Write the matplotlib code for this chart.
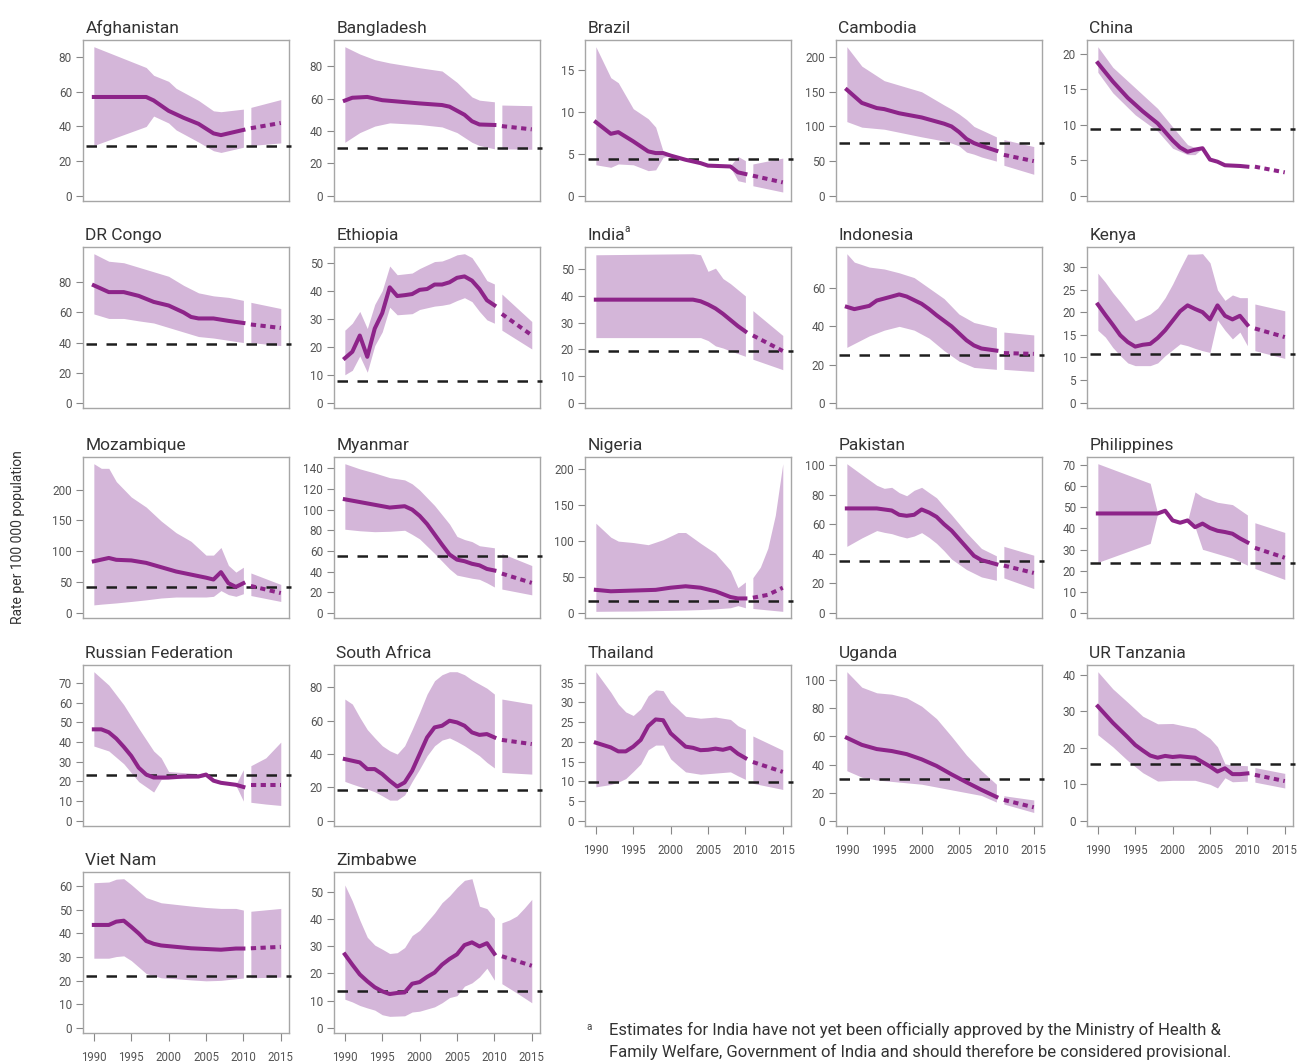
import matplotlib
matplotlib.use("Agg")
import matplotlib.pyplot as plt
from matplotlib.ticker import FixedLocator
import numpy as np

# ---- data: estimate (line), uncertainty band (lo/hi); years > 2010 are projections
afg_yr = [1990, 1997, 1998, 1999, 2000, 2002, 2004, 2006, 2007, 2008, 2010, 2011, 2015]
afg_est = [57, 57, 55, 52, 49, 45, 41.5, 36, 35, 36, 38, 39, 42]
afg_byr = [1990, 1997, 1998, 2000, 2001, 2004, 2006, 2007, 2010, 2011, 2015]
afg_hi = [86, 74, 69.5, 66, 62, 55, 49, 48.5, 50, 51, 55.5]
afg_lo = [29, 40, 46, 42, 38, 31, 26, 25, 28, 29, 30.5]

bgd_yr = [1990, 1991, 1993, 1995, 2000, 2003, 2004, 2006, 2007, 2008, 2010, 2011, 2015]
bgd_est = [58.75, 60.5, 61, 59, 57, 56, 55, 50, 46, 44, 43.7, 43, 41]
bgd_byr = [1990, 1992, 1994, 1995, 1996, 2000, 2003, 2005, 2007, 2008, 2010, 2011, 2015]
bgd_hi = [92, 87.5, 84, 83, 82, 79, 77, 70, 61, 59, 58, 56, 55.6]
bgd_lo = [33, 39, 43, 44, 45, 44, 42.5, 39, 33, 31, 29, 29, 28.7]

bra_yr = [1990, 1992, 1993, 1995, 1997, 1998, 1999, 2000, 2002, 2004, 2005, 2008, 2009, 2010, 2011, 2015]
bra_est = [8.8, 7.4, 7.6, 6.5, 5.3, 5.1, 5.1, 4.8, 4.3, 3.9, 3.6, 3.5, 2.8, 2.6, 2.4, 1.6]
bra_byr = [1990, 1992, 1993, 1995, 1997, 1998, 1999, 2000, 2002, 2004, 2005, 2008, 2009, 2010, 2011, 2015]
bra_hi = [17.8, 14.1, 13.5, 10.4, 9.2, 8.2, 5.3, 4.8, 4.3, 3.9, 3.6, 3.6, 4.7, 4.2, 3.8, 4.5]
bra_lo = [3.7, 3.4, 3.8, 3.7, 3.0, 3.1, 4.6, 4.8, 4.3, 3.9, 3.6, 3.4, 1.8, 1.6, 1.2, 0.45]

khm_yr = [1990, 1992, 1994, 1995, 1997, 2000, 2002, 2003, 2004, 2005, 2006, 2007, 2008, 2010, 2011, 2015]
khm_est = [153, 134, 126.5, 125, 119, 113, 107, 104, 100, 92, 82, 76, 72, 65, 59, 50]
khm_byr = [1990, 1992, 1995, 2000, 2003, 2004, 2005, 2006, 2007, 2008, 2010, 2011, 2015]
khm_hi = [215, 187, 166, 150, 131, 125, 118, 110, 100, 95, 85, 81, 71]
khm_lo = [107, 99, 96, 85, 79, 76, 72, 63, 60, 56, 50, 44, 31]

chn_yr = [1990, 1992, 1994, 1996, 1998, 2000, 2001, 2002, 2003, 2004, 2005, 2006, 2007, 2009, 2010, 2011, 2015]
chn_est = [18.7, 16.1, 13.8, 11.9, 10.2, 7.8, 6.8, 6.2, 6.5, 6.7, 5.1, 4.8, 4.3, 4.2, 4.1, 4.1, 3.3]
chn_byr = [1990, 1992, 1995, 1998, 2000, 2002, 2003, 2004, 2005, 2006, 2007, 2009, 2010, 2011, 2015]
chn_hi = [21, 18.1, 15.2, 12.3, 9.7, 7.2, 6.8, 6.7, 5.1, 4.8, 4.3, 4.2, 4.1, 4.1, 3.3]
chn_lo = [17.4, 14.5, 11.4, 9.1, 6.7, 5.8, 5.8, 6.7, 5.1, 4.8, 4.3, 4.2, 4.1, 4.1, 3.3]

cod_yr = [1990, 1992, 1994, 1996, 1998, 2000, 2002, 2003, 2004, 2006, 2008, 2010, 2011, 2015]
cod_est = [78, 73.5, 73.5, 71, 67, 64.6, 60, 57, 56, 56, 54.4, 53, 52, 49.7]
cod_byr = [1990, 1992, 1994, 1996, 1998, 2000, 2002, 2004, 2006, 2008, 2010, 2011, 2015]
cod_hi = [99, 94, 93, 90, 87, 84, 78, 73, 71, 70, 68, 66.7, 62.6]
cod_lo = [59, 56, 56, 54.4, 53, 50, 47, 44, 43, 41.5, 40, 40, 38]

eth_yr = list(range(1990, 2011)) + [2011, 2015]
eth_est = [15.9, 18.2, 24, 16.4, 26.5, 32, 41.2, 38.1, 38.4, 38.8, 40.3, 40.6, 42.2, 42.2, 43, 44.6,
           45.1, 43.6, 40.6, 36.6, 34.8, 31.7, 24.1]
eth_byr = [1990, 1991, 1992, 1993, 1994, 1995, 1996, 1997, 1999, 2000, 2002, 2003, 2004, 2005, 2006,
           2007, 2008, 2009, 2010, 2011, 2015]
eth_hi = [25.9, 28.4, 32.6, 26.5, 35.1, 40, 48.8, 45.7, 46.3, 47.9, 50.4, 50.6, 51.6, 52.8, 53.2,
          51.8, 47.9, 43.6, 42.4, 38.8, 29]
eth_lo = [10, 11.6, 16.7, 10.9, 20.4, 25.3, 34.1, 31.4, 31.8, 33.3, 34.5, 34.8, 35.3, 36.5, 37.5,
          36.1, 32.6, 29.6, 28.4, 25.9, 19.2]

ind_yr = [1990, 2003, 2004, 2005, 2006, 2007, 2008, 2009, 2010, 2011, 2015]
ind_est = [38.6, 38.6, 38, 36.8, 35.3, 33.3, 31, 28.7, 26.7, 25.2, 19.4]
ind_byr = [1990, 2003, 2004, 2005, 2006, 2007, 2008, 2010, 2011, 2015]
ind_hi = [55.4, 55.8, 55.4, 49.2, 50.4, 46.5, 44.6, 40, 34.5, 25.2]
ind_lo = [24.4, 24.4, 24.4, 23.3, 21.3, 20.5, 19.4, 17.4, 16.3, 12.4]

idn_yr = [1990, 1991, 1993, 1994, 1996, 1997, 1998, 2000, 2001, 2002, 2004, 2006, 2007, 2008, 2010, 2011, 2015]
idn_est = [50.2, 49, 50.7, 53.5, 55.6, 56.7, 55.6, 51.8, 49, 45.8, 40, 32.7, 30, 28.4, 27.3, 26, 25.6]
idn_byr = [1990, 1991, 1993, 1995, 1997, 1999, 2001, 2003, 2005, 2007, 2010, 2011, 2015]
idn_hi = [78, 73.6, 71, 70, 68, 65.5, 60, 54.5, 46.4, 42, 39.3, 37, 35.5]
idn_lo = [29, 31, 35, 38, 40, 38, 33.8, 27.3, 21.8, 18.5, 17.5, 17.5, 16.4]

ken_yr = list(range(1990, 2011)) + [2011, 2015]
ken_est = [21.7, 19.4, 17.2, 14.9, 13.4, 12.4, 12.8, 13, 14.3, 16, 18.1, 20.2, 21.5, 20.7, 20, 18.4,
           21.5, 19.2, 18.4, 19.2, 17.2, 16.4, 14.5]
ken_byr = list(range(1990, 2011)) + [2011, 2015]
ken_hi = [28.6, 26.6, 24.3, 22.3, 20.2, 18.1, 18.8, 19.6, 20.9, 23.2, 26.2, 29.6, 32.8, 32.8, 32.9,
          30.9, 24.9, 22.6, 23.8, 23.2, 23.2, 21.8, 20.3]
ken_lo = [16, 14.5, 12.2, 10.4, 8.8, 8.2, 8.2, 8.2, 8.8, 10.4, 11.7, 13, 12.6, 12, 11.5, 11.1, 18.3,
          16, 14.1, 15.6, 12.6, 11.5, 9.8]

moz_yr = [1990, 1992, 1993, 1995, 1997, 1999, 2001, 2003, 2005, 2006, 2007, 2008, 2009, 2010, 2011, 2015]
moz_est = [83.6, 89, 86, 85, 81, 74, 67, 62, 57, 54, 66, 48, 42, 48, 43.5, 32]
moz_byr = [1990, 1991, 1992, 1993, 1995, 1997, 1999, 2001, 2003, 2005, 2006, 2007, 2008, 2009, 2010, 2011, 2015]
moz_hi = [242, 234.5, 234.5, 213, 188, 171.6, 149, 130, 116, 93.6, 93.6, 106, 77, 66, 74, 64.6, 46]
moz_lo = [12.8, 14, 15, 16, 18.4, 21, 24, 25.6, 25.6, 25.6, 26.7, 36, 29.5, 26.7, 31, 28, 18.4]

mmr_yr = [1990, 1993, 1996, 1998, 1999, 2000, 2001, 2002, 2003, 2004, 2005, 2006, 2007, 2008, 2009, 2010, 2011, 2015]
mmr_est = [110, 106, 102, 103.3, 100, 94, 86, 76, 66, 56.5, 51.5, 50, 47.5, 46, 42.5, 41, 38, 29]
mmr_byr = [1990, 1992, 1994, 1996, 1998, 1999, 2000, 2002, 2004, 2005, 2006, 2007, 2008, 2009, 2010, 2011, 2015]
mmr_hi = [144.5, 139.5, 135.5, 131, 128.8, 125, 119, 104, 86, 74, 71, 69, 65, 64, 63, 57.5, 45.8]
mmr_lo = [81, 79.5, 78.6, 79, 80, 76, 71.6, 57.5, 42.5, 36.5, 35, 33.5, 32.4, 29, 25, 23, 17.4]

nga_yr = [1990, 1992, 1995, 1998, 2000, 2002, 2004, 2006, 2008, 2009, 2010, 2011, 2013, 2015]
nga_est = [32, 30, 31, 32, 35, 37, 35, 30, 22, 20, 20, 21, 25, 35]
nga_byr = [1990, 1992, 1993, 1995, 1997, 1999, 2001, 2002, 2004, 2006, 2008, 2009, 2010,
           2011, 2012, 2013, 2014, 2015]
nga_hi = [125, 105.5, 100, 98, 95, 102, 112, 112, 97, 83, 59, 35, 43, 49, 63.6, 90, 136, 208]
nga_lo = [2, 2.2, 2.3, 2.4, 2.8, 3.2, 3.6, 3.8, 4.5, 5.5, 7, 10, 7, 6, 5, 4, 3, 2]

pak_yr = [1990, 1994, 1995, 1996, 1997, 1998, 1999, 2000, 2001, 2002, 2003, 2004, 2005, 2006, 2007,
          2008, 2009, 2010, 2011, 2015]
pak_est = [70.7, 70.7, 70, 69.3, 66.4, 65.7, 66.4, 70, 67.9, 65, 60, 55.7, 50, 44.3, 38.6, 35.7, 34.3,
           32.9, 32, 27]
pak_byr = [1990, 1992, 1994, 1995, 1996, 1997, 1998, 1999, 2000, 2001, 2002, 2003, 2004, 2006, 2008,
           2010, 2011, 2015]
pak_hi = [101, 93.6, 86.4, 84.3, 85, 81.4, 79.3, 83, 85, 81.4, 77.9, 72, 66.4, 54.3, 43.6, 38.6, 45, 39]
pak_lo = [45, 50.7, 55.7, 54.5, 53.6, 52, 50.7, 52, 54.3, 51, 47, 42, 36.4, 29.3, 24.3, 22, 23.6, 16.4]

phl_yr = [1990, 1998, 1999, 2000, 2001, 2002, 2003, 2004, 2005, 2006, 2007, 2008, 2009, 2010, 2011, 2015]
phl_est = [47.1, 47.1, 48.4, 43.8, 42.7, 43.8, 40.6, 42.3, 40.2, 38.9, 38.3, 37.5, 35.3, 33.4, 30.8, 26.1]
phl_byr = [1990, 1997, 1998, 2002, 2003, 2004, 2006, 2008, 2010, 2011, 2015]
phl_hi = [70.7, 61.4, 47.1, 43.8, 57.3, 54.9, 52.4, 51.3, 46.4, 42.7, 38.1]
phl_lo = [23.9, 32.9, 47.1, 43.8, 40.6, 30.1, 28, 25.9, 22.6, 21, 15.8]

rus_yr = [1990, 1991, 1992, 1993, 1994, 1995, 1996, 1997, 1998, 2000, 2002, 2004, 2005, 2006, 2007,
          2009, 2010, 2011, 2015]
rus_est = [46.5, 46.5, 45, 41.8, 37.6, 33, 27, 23.5, 22, 22, 22.5, 22.5, 23.5, 20.4, 19.3, 18.3, 17.2,
           18.3, 18.3]
rus_byr = [1990, 1992, 1994, 1996, 1998, 1999, 2000, 2002, 2004, 2005, 2006, 2007, 2009, 2010,
           2011, 2013, 2015]
rus_hi = [75.8, 69, 59, 47, 35.5, 32, 25, 24.5, 24, 24.5, 20.4, 19.3, 18.5, 26, 28, 32, 40]
rus_lo = [38, 35.5, 29, 19.9, 14.6, 21, 21.4, 21.5, 22, 22.5, 20.4, 19.3, 18, 10, 9.4, 8.5, 7.8]

zaf_yr = list(range(1990, 2011)) + [2011, 2015]
zaf_est = [37, 36, 35, 31, 31, 28, 24, 20.5, 23, 30, 40, 50, 56, 57, 60, 59, 57, 53, 51.5, 52, 50,
           48.5, 46]
zaf_byr = list(range(1990, 2011)) + [2011, 2015]
zaf_hi = [73, 70, 62, 54.7, 49.7, 45, 42, 40, 45, 54.7, 65, 76, 84, 87.6, 89.4, 89.4, 87.6, 84.5, 82,
          79.5, 76, 73, 70]
zaf_lo = [23.6, 22, 20.5, 19, 17.4, 15, 12.4, 12.4, 15.5, 23.6, 31, 39, 45, 48.4, 49.7, 47.5, 45, 42,
          39, 35, 31.7, 29, 28]

tha_yr = list(range(1990, 2011)) + [2011, 2015]
tha_est = [19.8, 19.2, 18.6, 17.6, 17.6, 18.8, 20.5, 24, 25.7, 25.5, 22.2, 20.5, 18.8, 18.5, 17.9, 18,
           18.3, 18, 18.5, 17, 15.9, 14.9, 12.4]
tha_byr = [1990, 1992, 1993, 1994, 1995, 1996, 1997, 1998, 1999, 2000, 2001, 2002, 2004, 2006, 2008,
           2009, 2010, 2011, 2015]
tha_hi = [37.8, 32.6, 29.6, 27.6, 26.7, 28.4, 31.7, 33.2, 33, 30, 28.3, 26.5, 26, 26.3, 25.7, 24.1,
          23.2, 21.5, 17.9]
tha_lo = [8.6, 9.2, 9.8, 10.7, 12.5, 14.4, 18, 19.2, 19.2, 15.7, 14, 12.4, 11.8, 12.1, 12.4, 11.4,
          10.5, 9.5, 7.95]

uga_yr = [1990, 1992, 1994, 1996, 1998, 2000, 2002, 2004, 2006, 2008, 2010, 2011, 2015]
uga_est = [59, 54, 51, 49.6, 47.4, 43.7, 39, 33, 27.4, 22, 17, 14.8, 9.6]
uga_byr = [1990, 1992, 1994, 1996, 1998, 2000, 2002, 2004, 2006, 2008, 2010, 2011, 2015]
uga_hi = [106, 95, 91, 90, 87.4, 81.5, 72.6, 60, 46.7, 35.6, 26, 17.8, 14.8]
uga_lo = [35.6, 31, 29, 28, 27, 26, 24, 22, 20, 18, 13.3, 11.9, 5.9]

tza_yr = [1990, 1992, 1994, 1995, 1996, 1997, 1998, 1999, 2000, 2001, 2003, 2004, 2005, 2006, 2007,
          2008, 2009, 2010, 2011, 2015]
tza_est = [31.4, 26.9, 22.9, 20.8, 19.3, 17.9, 17.3, 17.8, 17.5, 17.7, 17.3, 16.1, 14.9, 13.5, 14.4,
           12.8, 12.8, 13, 12.6, 10.9]
tza_byr = [1990, 1992, 1994, 1996, 1998, 2000, 2003, 2005, 2006, 2007, 2008, 2010, 2011, 2015]
tza_hi = [40.9, 36.2, 32.5, 28.7, 26.6, 26.7, 25.4, 22.6, 20.3, 15.6, 15.3, 15.1, 14.6, 13]
tza_lo = [23.6, 20.3, 16.5, 13.2, 10.9, 11.1, 11.1, 10, 9, 11.8, 10.7, 10.9, 10.6, 9]

vnm_yr = [1990, 1992, 1993, 1994, 1995, 1996, 1997, 1998, 1999, 2001, 2003, 2005, 2007, 2009, 2010,
          2011, 2015]
vnm_est = [43.6, 43.6, 45, 45.4, 42.8, 40, 36.8, 35.6, 34.9, 34.3, 33.7, 33.4, 33.1, 33.6, 33.6, 33.7,
           34.3]
vnm_byr = [1990, 1992, 1993, 1994, 1995, 1997, 1999, 2001, 2003, 2005, 2007, 2009, 2010, 2011, 2015]
vnm_hi = [61.5, 61.8, 63, 63.2, 60.7, 55.2, 53, 52.3, 51.6, 51, 50.6, 50.6, 49.9, 49.4, 50.6]
vnm_lo = [29.5, 29.5, 30.2, 30.5, 28.5, 23, 21.2, 20.8, 20.3, 19.9, 20.1, 20.8, 21.1, 21.2, 21.5]

zwe_yr = list(range(1990, 2011)) + [2011, 2015]
zwe_est = [27, 23.2, 19.6, 17.1, 14.9, 13.4, 12.4, 12.8, 13, 16.2, 16.8, 18.7, 20.3, 23.2, 25.3, 27,
           30.4, 31.4, 29.9, 31.1, 27.2, 26.3, 22.8]
zwe_byr = [1990, 1991, 1992, 1993, 1994, 1995, 1996, 1997, 1998, 1999, 2000, 2002, 2003, 2004, 2005,
           2006, 2007, 2008, 2009, 2010, 2011, 2012, 2013, 2014, 2015]
zwe_hi = [52.5, 46.6, 39.6, 33.3, 30.4, 28.9, 27.3, 27.6, 29.5, 33.9, 35.8, 42.2, 46, 48.5, 51.6,
          54.2, 54.8, 44.7, 43.8, 40.3, 38.6, 39.6, 41.1, 44, 47.2]
zwe_lo = [10.5, 9.5, 8.2, 7.3, 6.5, 4.8, 4.2, 4.3, 4.4, 5.8, 6.1, 7.7, 9.2, 11.1, 11.8, 15.3, 16.5,
          18.7, 21.9, 17.5, 16.2, 14.5, 12.8, 11, 9.2]

countries = ["Afghanistan", "Bangladesh", "Brazil", "Cambodia", "China",
             "DR Congo", "Ethiopia", "India", "Indonesia", "Kenya",
             "Mozambique", "Myanmar", "Nigeria", "Pakistan", "Philippines",
             "Russian Federation", "South Africa", "Thailand", "Uganda", "UR Tanzania",
             "Viet Nam", "Zimbabwe"]
targets = [28.5, 29.4, 4.4, 76.5, 9.35, 39, 7.9, 19.4, 25.1, 10.85, 42, 55, 16, 35.4, 23.5,
           23.3, 18.5, 9.9, 29.6, 15.7, 21.8, 13.5]
# y tick step and highest labelled tick per panel
ysteps = [20, 20, 5, 50, 5, 20, 10, 10, 20, 5, 50, 20, 50, 20, 10, 10, 20, 5, 20, 10, 10, 10]
ytopticks = [80, 80, 15, 200, 20, 80, 50, 50, 60, 30, 200, 140, 200, 100, 70, 70, 80, 35, 100, 40, 60, 50]
xticks = [1990, 1995, 2000, 2005, 2010, 2015]

series = [
    (afg_yr, afg_est, afg_byr, afg_lo, afg_hi), (bgd_yr, bgd_est, bgd_byr, bgd_lo, bgd_hi),
    (bra_yr, bra_est, bra_byr, bra_lo, bra_hi), (khm_yr, khm_est, khm_byr, khm_lo, khm_hi),
    (chn_yr, chn_est, chn_byr, chn_lo, chn_hi), (cod_yr, cod_est, cod_byr, cod_lo, cod_hi),
    (eth_yr, eth_est, eth_byr, eth_lo, eth_hi), (ind_yr, ind_est, ind_byr, ind_lo, ind_hi),
    (idn_yr, idn_est, idn_byr, idn_lo, idn_hi), (ken_yr, ken_est, ken_byr, ken_lo, ken_hi),
    (moz_yr, moz_est, moz_byr, moz_lo, moz_hi), (mmr_yr, mmr_est, mmr_byr, mmr_lo, mmr_hi),
    (nga_yr, nga_est, nga_byr, nga_lo, nga_hi), (pak_yr, pak_est, pak_byr, pak_lo, pak_hi),
    (phl_yr, phl_est, phl_byr, phl_lo, phl_hi), (rus_yr, rus_est, rus_byr, rus_lo, rus_hi),
    (zaf_yr, zaf_est, zaf_byr, zaf_lo, zaf_hi), (tha_yr, tha_est, tha_byr, tha_lo, tha_hi),
    (uga_yr, uga_est, uga_byr, uga_lo, uga_hi), (tza_yr, tza_est, tza_byr, tza_lo, tza_hi),
    (vnm_yr, vnm_est, vnm_byr, vnm_lo, vnm_hi), (zwe_yr, zwe_est, zwe_byr, zwe_lo, zwe_hi),
]

# ---- style
BAND = "#d4b6d9"
LINE = "#8d2489"
GREY = "#a6a6a6"
plt.rcParams["font.family"] = ["Roboto", "DejaVu Sans"]

W, H = 1299, 1063
fig = plt.figure(figsize=(W / 100, H / 100), dpi=100)

col_left = [83, 334, 585, 836, 1087]
row_top = [40, 247, 457, 665, 872]
bw, bh = 206, 161
bottom_panels = {17, 18, 19, 20, 21}

for i, (name, (yr, est, byr, lo, hi)) in enumerate(zip(countries, series)):
    r, c = divmod(i, 5)
    ax = fig.add_axes([col_left[c] / W, 1 - (row_top[r] + bh) / H, bw / W, bh / H])
    yr, est, byr, lo, hi = map(np.asarray, (yr, est, byr, lo, hi))

    past, proj = byr <= 2010, byr >= 2011
    ax.fill_between(byr[past], lo[past], hi[past], color=BAND, lw=0)
    ax.fill_between(byr[proj], lo[proj], hi[proj], color=BAND, lw=0)

    ax.axhline(targets[i], xmin=0.015, xmax=1.012, color="#1e1e1e", lw=1.8,
               dashes=(4.2, 3.8), clip_on=False, zorder=3)

    ep, ef = yr <= 2010, yr >= 2011
    ax.plot(yr[ep], est[ep], color=LINE, lw=2.9, solid_joinstyle="round", zorder=4)
    ax.plot(yr[ef], est[ef], color=LINE, lw=2.9, dashes=(1.3, 1.1),
            dash_capstyle="butt", zorder=4)

    top = hi.max()
    ax.set_ylim(-0.035 * top, 1.045 * top)
    ax.set_xlim(1988.55, 2016.1)
    ax.yaxis.set_major_locator(FixedLocator(np.arange(0, ytopticks[i] + 0.1, ysteps[i])))

    for s in ax.spines.values():
        s.set_color(GREY)
        s.set_linewidth(1.0)
    ax.tick_params(axis="y", length=5, width=0.8, color="#888888", labelcolor="#555555",
                   labelsize=8.5, pad=3)
    if i in bottom_panels:
        ax.set_xticks(xticks)
        ax.tick_params(axis="x", length=6, width=0.8, color="#888888", labelcolor="#555555",
                       labelsize=8.3, pad=7)
    else:
        ax.set_xticks([])

    ax.set_title(name, loc="left", fontsize=12.5, color="#333333", pad=5, x=0.012)
    if name == "India":
        ax.text(0.19, 1.095, "a", transform=ax.transAxes, fontsize=7, color="#333333")

fig.text(18 / W, 1 - 537 / H, "Rate per 100 000 population", rotation=90,
         ha="center", va="center", fontsize=10, color="#333333")

fig.text(586 / W, 1 - 1027 / H, "a", fontsize=7, color="#444444", va="center")
fig.text(609 / W, 1 - 1041 / H,
         "Estimates for India have not yet been officially approved by the Ministry of Health &\n"
         "Family Welfare, Government of India and should therefore be considered provisional.",
         fontsize=12, color="#333333", va="center", linespacing=1.4,
         family=["Liberation Sans Narrow", "Roboto"])
fig.savefig("out.png", dpi=100)
